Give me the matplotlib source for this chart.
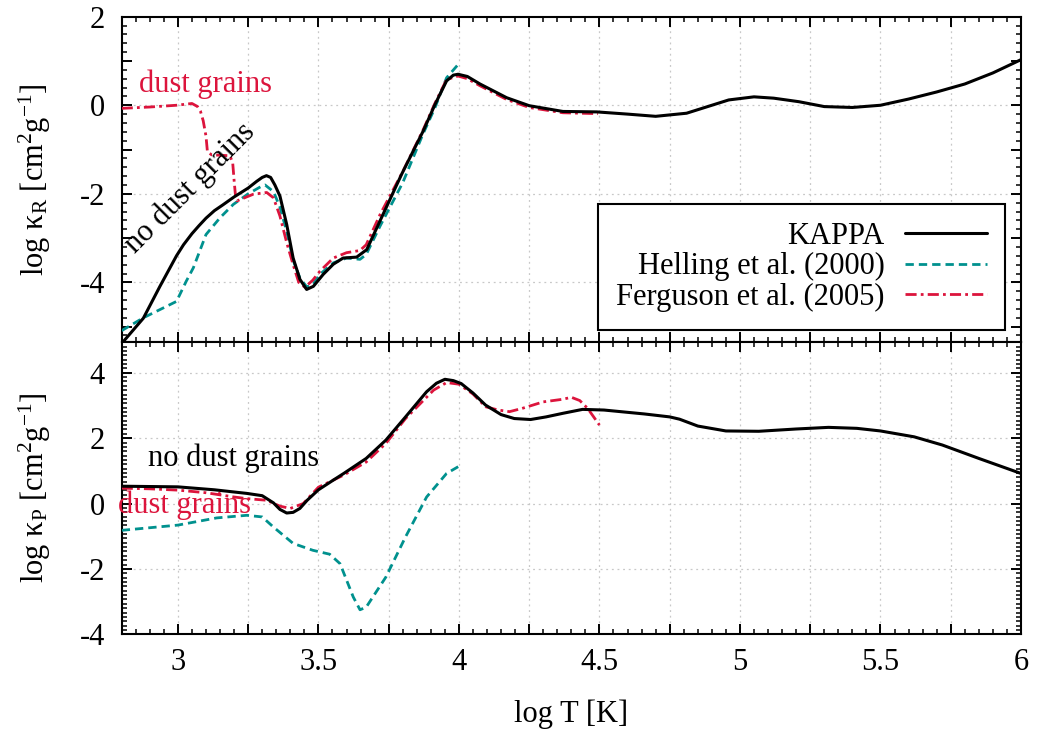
import matplotlib
matplotlib.use("Agg")
import matplotlib.pyplot as plt
from matplotlib.ticker import MultipleLocator, FuncFormatter

# Rosseland mean opacity, log kappa_R vs log T
kr_kappa_T = [2.80, 2.877, 2.936, 2.995, 3.02, 3.05, 3.075, 3.10, 3.13, 3.16, 3.20,
              3.25, 3.28, 3.30, 3.315, 3.33, 3.345, 3.363, 3.387, 3.41, 3.434, 3.458,
              3.482, 3.517, 3.553, 3.588, 3.636, 3.672, 3.72, 3.796, 3.873, 3.915,
              3.956, 3.98, 3.997, 4.03, 4.075, 4.17, 4.25, 4.37, 4.49, 4.60, 4.70,
              4.81, 4.90, 4.96, 5.05, 5.12, 5.21, 5.30, 5.40, 5.50, 5.60, 5.70,
              5.80, 5.90, 6.00]
kr_kappa = [-5.38, -4.81, -4.09, -3.40, -3.15, -2.90, -2.72, -2.55, -2.38, -2.25, -2.07,
            -1.87, -1.72, -1.63, -1.59, -1.63, -1.80, -2.05, -2.69, -3.45, -3.93, -4.16,
            -4.09, -3.82, -3.59, -3.45, -3.43, -3.26, -2.60, -1.56, -0.58, 0.02,
            0.55, 0.68, 0.70, 0.65, 0.48, 0.17, -0.01, -0.14, -0.15, -0.20, -0.25,
            -0.18, 0.00, 0.12, 0.19, 0.16, 0.08, -0.03, -0.05, 0.00, 0.14, 0.30,
            0.48, 0.73, 1.03]

kr_helling_T = [2.80, 2.877, 2.995, 3.03, 3.055, 3.10, 3.15, 3.197, 3.25, 3.30, 3.31,
                3.34, 3.363, 3.387, 3.41, 3.434, 3.458, 3.48, 3.505, 3.553, 3.60,
                3.648, 3.67, 3.72, 3.80, 3.87, 3.915, 3.956, 3.997]
kr_helling = [-5.09, -4.80, -4.43, -3.97, -3.67, -2.92, -2.54, -2.24, -2.00, -1.82, -1.80,
              -1.95, -2.30, -2.85, -3.50, -3.90, -4.10, -4.05, -3.82, -3.56, -3.45,
              -3.48, -3.37, -2.72, -1.75, -0.68, -0.05, 0.62, 0.92]

kr_ferguson_T = [2.80, 2.90, 2.995, 3.05, 3.07, 3.08, 3.09, 3.10, 3.105, 3.12, 3.185,
                 3.195, 3.20, 3.205, 3.21, 3.268, 3.316, 3.34, 3.363, 3.387, 3.41,
                 3.43, 3.452, 3.48, 3.505, 3.553, 3.60, 3.648, 3.67, 3.72, 3.80,
                 3.873, 3.915, 3.956, 3.997, 4.03, 4.075, 4.17, 4.25, 4.37, 4.495]
kr_ferguson = [-0.07, -0.04, 0.00, 0.04, -0.03, -0.13, -0.35, -0.70, -1.05, -1.12, -1.14,
               -1.30, -1.70, -2.05, -2.16, -2.01, -1.97, -2.09, -2.50, -3.10, -3.60,
               -4.00, -4.11, -3.95, -3.75, -3.45, -3.33, -3.28, -3.15, -2.46, -1.50,
               -0.55, 0.05, 0.58, 0.66, 0.60, 0.44, 0.13, -0.05, -0.17, -0.19]

# Planck mean opacity, log kappa_P vs log T
kp_kappa_T = [2.80, 3.00, 3.13, 3.245, 3.30, 3.34, 3.363, 3.387, 3.41, 3.434, 3.46,
              3.50, 3.55, 3.59, 3.67, 3.74, 3.81, 3.885, 3.92, 3.95, 3.98, 4.008,
              4.05, 4.095, 4.15, 4.197, 4.255, 4.31, 4.37, 4.44, 4.516, 4.66, 4.75,
              4.785, 4.85, 4.95, 5.067, 5.20, 5.315, 5.416, 5.50, 5.62, 5.72, 5.85, 6.00]
kp_kappa = [0.53, 0.51, 0.42, 0.31, 0.24, 0.02, -0.18, -0.29, -0.27, -0.15, 0.10,
            0.42, 0.70, 0.92, 1.38, 1.94, 2.65, 3.42, 3.68, 3.80, 3.76, 3.67,
            3.38, 3.01, 2.72, 2.60, 2.57, 2.65, 2.76, 2.88, 2.86, 2.74, 2.65,
            2.58, 2.37, 2.22, 2.21, 2.28, 2.33, 2.30, 2.22, 2.04, 1.79, 1.38, 0.92]

kp_helling_T = [2.80, 3.00, 3.138, 3.245, 3.30, 3.34, 3.41, 3.48, 3.54, 3.577, 3.624,
                3.648, 3.67, 3.74, 3.81, 3.885, 3.956, 4.00]
kp_helling = [-0.82, -0.66, -0.44, -0.36, -0.41, -0.72, -1.22, -1.43, -1.55, -1.84, -2.86,
              -3.25, -3.17, -2.25, -1.02, 0.20, 0.92, 1.14]

kp_ferguson_T = [2.80, 2.90, 3.00, 3.10, 3.20, 3.245, 3.316, 3.363, 3.40, 3.446, 3.50,
                 3.59, 3.67, 3.74, 3.81, 3.91, 3.956, 4.00, 4.05, 4.095, 4.14, 4.18,
                 4.225, 4.30, 4.37, 4.40, 4.43, 4.458, 4.50]
kp_ferguson = [0.47, 0.45, 0.41, 0.33, 0.20, 0.15, 0.10, -0.08, -0.15, 0.00, 0.50,
               0.87, 1.27, 1.84, 2.60, 3.47, 3.70, 3.65, 3.35, 2.96, 2.86, 2.81,
               2.91, 3.11, 3.19, 3.25, 3.15, 2.91, 2.40]

series_labels = ["KAPPA", "Helling et al. (2000)", "Ferguson et al. (2005)"]

FS = 22
plt.rcParams.update({
    "font.family": ["Liberation Serif", "DejaVu Serif"],
    "font.size": FS,
    "mathtext.fontset": "custom",
    "mathtext.rm": "Liberation Serif",
    "mathtext.it": "Liberation Serif:italic",
    "axes.linewidth": 1.5,
})

BLACK = "black"
TEAL = "#00918E"
CRIMSON = "#DC143C"

fig = plt.figure(figsize=(10.37, 7.31), dpi=100)
ax_r = fig.add_axes([0.11736, 0.53256, 0.8672, 0.4446])
ax_p = fig.add_axes([0.11736, 0.13228, 0.8672, 0.40027])

style = dict(
    kappa=dict(color=BLACK, lw=2.2, solid_capstyle="round", solid_joinstyle="round"),
    helling=dict(color=TEAL, lw=2.0, dashes=(3.0, 1.8)),
    ferguson=dict(color=CRIMSON, lw=2.0, dashes=(4.0, 1.5, 1.0, 1.5)),
)

l1, = ax_r.plot(kr_kappa_T, kr_kappa, label=series_labels[0], zorder=4, **style["kappa"])
l2, = ax_r.plot(kr_helling_T, kr_helling, label=series_labels[1], zorder=3, **style["helling"])
l3, = ax_r.plot(kr_ferguson_T, kr_ferguson, label=series_labels[2], zorder=3, **style["ferguson"])

ax_p.plot(kp_kappa_T, kp_kappa, zorder=4, **style["kappa"])
ax_p.plot(kp_helling_T, kp_helling, zorder=3, **style["helling"])
ax_p.plot(kp_ferguson_T, kp_ferguson, zorder=3, **style["ferguson"])

grid_kw = dict(color="#c8c8c8", lw=0.9, ls=(0, (1.5, 3)))


def x_fmt(v, pos):
    return f"{v:g}" if abs(v * 2 - round(v * 2)) < 1e-6 else ""


def even_fmt(v, pos):
    return f"{v:g}" if abs(v / 2 - round(v / 2)) < 1e-6 else ""


for ax in (ax_r, ax_p):
    ax.set_xlim(2.8, 6.0)
    ax.xaxis.set_major_locator(MultipleLocator(0.25))
    ax.xaxis.set_minor_locator(MultipleLocator(0.05))
    ax.xaxis.set_major_formatter(FuncFormatter(x_fmt))
    ax.tick_params(which="both", direction="in", top=True, right=True)
    ax.tick_params(which="major", length=7, width=1.4, labelsize=FS)
    ax.tick_params(which="minor", length=3.5, width=1.1)
    ax.tick_params(axis="x", which="major", pad=10)
    ax.tick_params(axis="y", which="major", pad=12)
    ax.grid(True, axis="x", which="major", **grid_kw)
    ax.set_axisbelow(True)

ax_r.set_ylim(-5.34, 2.0)
ax_r.yaxis.set_major_locator(MultipleLocator(1))
ax_r.yaxis.set_minor_locator(MultipleLocator(0.2))
ax_r.yaxis.set_major_formatter(FuncFormatter(even_fmt))
ax_r.tick_params(axis="x", labelbottom=False)
for yv in (-4, -2, 0):
    ax_r.axhline(yv, zorder=0, **grid_kw)

ax_p.set_ylim(-4.0, 4.95)
ax_p.yaxis.set_major_locator(MultipleLocator(2))
ax_p.yaxis.set_minor_locator(MultipleLocator(2 / 15))
ax_p.yaxis.set_major_formatter(FuncFormatter(even_fmt))
for yv in (-2, 0, 2, 4):
    ax_p.axhline(yv, zorder=0, **grid_kw)

ax_r.set_ylabel(r"log κ$_\mathrm{R}$ [cm$^{2}$g$^{-1}$]", fontsize=FS)
ax_p.set_ylabel(r"log κ$_\mathrm{P}$ [cm$^{2}$g$^{-1}$]", fontsize=FS)
ax_r.yaxis.set_label_coords(-0.076, 0.5)
ax_p.yaxis.set_label_coords(-0.076, 0.5)
ax_p.set_xlabel("log T [K]", fontsize=FS)
ax_p.xaxis.set_label_coords(0.5, -0.222)

# annotations
ax_r.text(2.86, 0.48, "dust grains", color=CRIMSON, fontsize=FS, ha="left", va="center")
ax_r.text(3.043, -1.86, "no dust grains", color=BLACK, fontsize=FS, ha="center",
          va="center", rotation=45, rotation_mode="anchor")
ax_p.text(2.894, 1.39, "no dust grains", color=BLACK, fontsize=FS, ha="left", va="center")
ax_p.text(2.788, -0.05, "dust grains", color=CRIMSON, fontsize=FS, ha="left", va="center",
          clip_on=False, zorder=6)

leg = ax_r.legend(handles=[l1, l2, l3], loc="lower right", bbox_to_anchor=(0.9822, 0.036),
                  borderaxespad=0, markerfirst=False, frameon=True, fancybox=False,
                  framealpha=1, edgecolor="black", fontsize=FS, handlelength=2.68,
                  handletextpad=0.66, labelspacing=0.04, borderpad=0.6)
leg.get_frame().set_linewidth(1.5)
leg.set_zorder(10)

fig.savefig("out.png", dpi=100)
